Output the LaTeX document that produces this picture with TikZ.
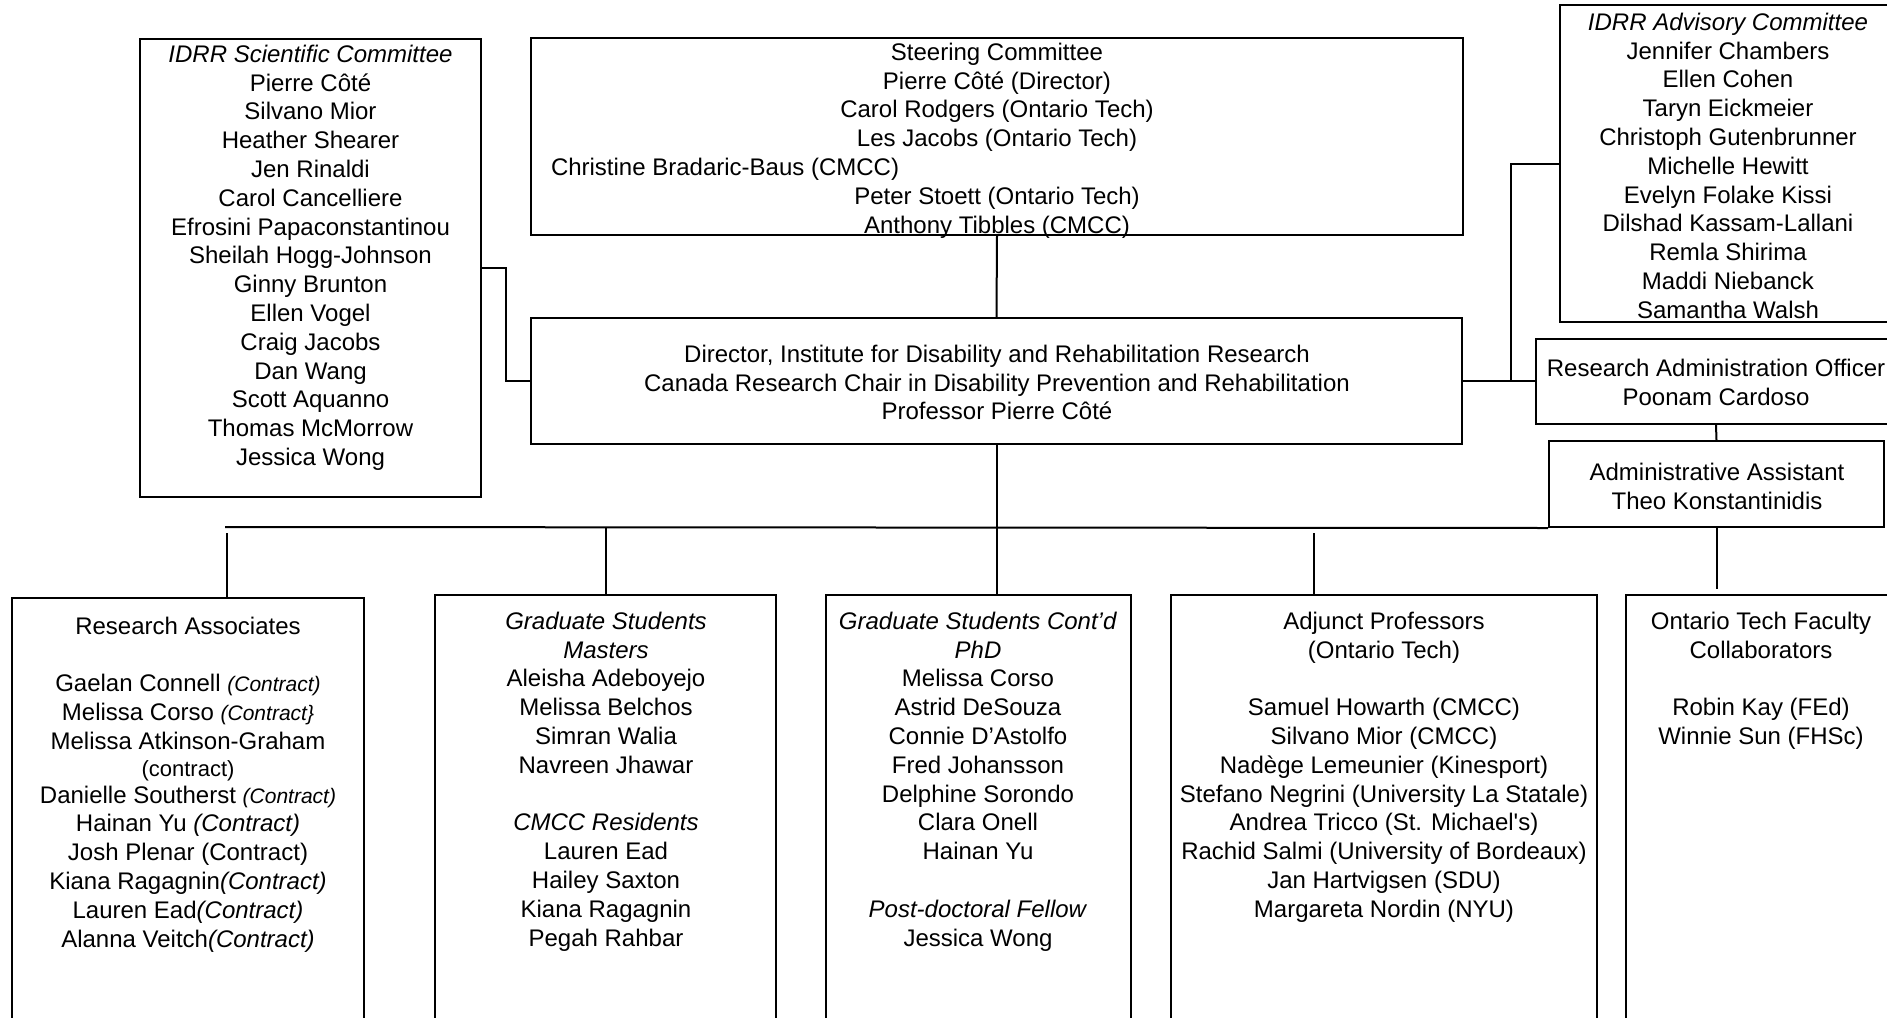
\documentclass[tikz,border=0pt]{standalone}
\usepackage{fontspec}
\setmainfont{Liberation Sans}
\newcommand\smallit{\fontsize{10.5}{14.4}\selectfont\itshape}
\begin{document}
\begin{tikzpicture}[x=0.5pt,y=-0.5pt,
  box/.style={draw, line width=1pt, inner sep=0pt, rectangle},
  txt/.style={anchor=north, align=center, inner sep=0pt, font=\fontsize{12}{14.4}\selectfont},
  conn/.style={line width=1pt}]
\useasboundingbox (0,0) rectangle (1887,1018);
\clip (0,0) rectangle (1887,1018);
% boxes
\node[box, minimum width=170.5pt, minimum height=229pt] (sci) at (310.5,268) {};
\node[box, minimum width=466pt, minimum height=98.5pt] (steer) at (997,136.5) {};
\node[box, minimum width=465.5pt, minimum height=63pt] (dir) at (996.5,381) {};
\node[box, minimum width=168pt, minimum height=158.5pt] (adv) at (1728,163.5) {};
\node[box, minimum width=180pt, minimum height=42.5pt] (rao) at (1716,381.5) {};
\node[box, minimum width=167.5pt, minimum height=43pt] (aa) at (1716.5,484) {};
\node[box, minimum width=176pt, minimum height=226pt] (ra) at (188,824) {};
\node[box, minimum width=170.5pt, minimum height=227.5pt] (gs) at (605.5,822.5) {};
\node[box, minimum width=152.5pt, minimum height=227.5pt] (gc) at (978.5,822.5) {};
\node[box, minimum width=213pt, minimum height=227.5pt] (adj) at (1384,822.5) {};
\node[box, minimum width=135pt, minimum height=227.5pt] (ot) at (1761,822.5) {};
% texts
\node[txt] (sci-t) at (310.5,44.5) {\itshape IDRR Scientific Committee\\Pierre Côté\\Silvano Mior\\Heather Shearer\\Jen Rinaldi\\Carol Cancelliere\\Efrosini Papaconstantinou\\Sheilah Hogg-Johnson\\Ginny Brunton\\Ellen Vogel\\Craig Jacobs\\Dan Wang\\Scott Aquanno\\Thomas McMorrow\\Jessica Wong};
\node[txt] (steer-t) at (997,42.5) {Steering Committee\\Pierre Côté (Director)\\Carol Rodgers (Ontario Tech)\\Les Jacobs (Ontario Tech)\\\makebox[446pt][l]{Christine Bradaric-Baus (CMCC)}\\Peter Stoett (Ontario Tech)\\Anthony Tibbles (CMCC)};
\node[txt] (dir-t) at (997,344.5) {Director, Institute for Disability and Rehabilitation Research\\Canada Research Chair in Disability Prevention and Rehabilitation\\Professor Pierre Côté};
\node[txt] (adv-t) at (1728,12.5) {\itshape IDRR Advisory Committee\\Jennifer Chambers\\Ellen Cohen\\Taryn Eickmeier\\Christoph Gutenbrunner\\Michelle Hewitt\\Evelyn Folake Kissi\\Dilshad Kassam-Lallani\\Remla Shirima\\Maddi Niebanck\\Samantha Walsh};
\node[txt] (rao-t) at (1716,358.5) {Research Administration Officer\\Poonam Cardoso};
\node[txt] (aa-t) at (1717,462.5) {Administrative Assistant\\Theo Konstantinidis};
\node[txt] (ra-t) at (188,616.5) {Research Associates\\[14.4pt]
Gaelan Connell {\smallit (Contract)}\\
Melissa Corso {\smallit (Contract\}}\\
Melissa Atkinson-Graham\\[-1pt]
{\fontsize{11}{14.4}\selectfont (contract)}\\[-1pt]
Danielle Southerst {\smallit (Contract)}\\
Hainan Yu \textit{(Contract)}\\
Josh Plenar (Contract)\\
Kiana Ragagnin\textit{(Contract)}\\
Lauren Ead\textit{(Contract)}\\
Alanna Veitch\textit{(Contract)}};
\node[txt] (gs-t) at (606,611.5) {\textit{Graduate Students}\\\textit{Masters}\\Aleisha Adeboyejo\\Melissa Belchos\\Simran Walia\\Navreen Jhawar\\[14.4pt]
\textit{CMCC Residents}\\Lauren Ead\\Hailey Saxton\\Kiana Ragagnin\\Pegah Rahbar};
\node[txt] (gc-t) at (978,611.5) {\textit{Graduate Students Cont’d}\\\textit{PhD}\\Melissa Corso\\Astrid DeSouza\\Connie D’Astolfo\\Fred Johansson\\Delphine Sorondo\\Clara Onell\\Hainan Yu\\[14.4pt]
\textit{Post-doctoral Fellow}\\Jessica Wong};
\node[txt] (adj-t) at (1384,611.5) {Adjunct Professors\\(Ontario Tech)\\[14.4pt]
Samuel Howarth (CMCC)\\Silvano Mior (CMCC)\\Nadège Lemeunier (Kinesport)\\Stefano Negrini (University La Statale)\\Andrea Tricco (St. Michael\textquotesingle s)\\Rachid Salmi (University of Bordeaux)\\Jan Hartvigsen (SDU)\\Margareta Nordin (NYU)};
\node[txt] (ot-t) at (1761,611.5) {Ontario Tech Faculty\\Collaborators\\[14.4pt]
Robin Kay (FEd)\\Winnie Sun (FHSc)};
% connectors
\draw[conn] (sci.east) -- ++(24,0) |- (dir.west);
\draw[conn] (steer.south) -- (dir.north);
\draw[conn] (dir.east) -- ++(48,0) coordinate (jr) |- (adv.west);
\draw[conn] (jr) -- (jr -| rao.west);
\draw[conn] (rao.south) -- (aa.north);
\coordinate (busL) at (225,527);
\draw[conn] (busL) -- (aa.south west);
\draw[conn] (dir.south) -- (dir.south |- gc.north);
\coordinate (ra-in) at (227,533);
\draw[conn] (ra-in) -- (ra-in |- ra.north);
\draw[conn] (gs.north |- busL) -- (gs.north);
\coordinate (adj-in) at (1314,533);
\draw[conn] (adj-in) -- (adj-in |- adj.north);
\draw[conn] (aa.south) -- ++(0,61);
\end{tikzpicture}
\end{document}
